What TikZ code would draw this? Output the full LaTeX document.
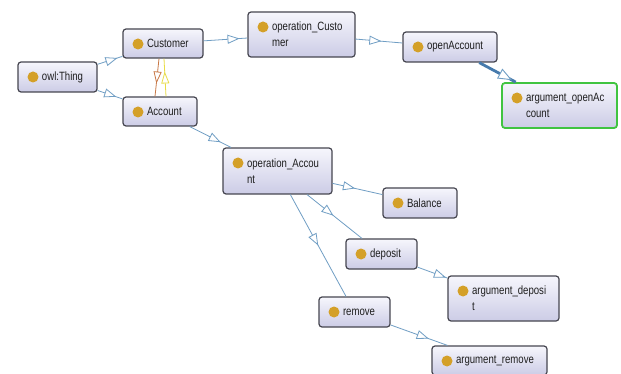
\documentclass[tikz,border=0pt]{standalone}
\usepackage{fontspec}
\setmainfont[FakeStretch=0.8]{Liberation Sans}
\usetikzlibrary{arrows.meta,decorations.markings}
\definecolor{edgec}{RGB}{112,158,196}
\definecolor{selc}{RGB}{70,122,172}
\definecolor{boxtop}{RGB}{246,246,252}
\definecolor{boxbot}{RGB}{204,204,230}
\definecolor{boxline}{RGB}{70,70,80}
\definecolor{dotc}{RGB}{212,160,40}
\definecolor{selgreen}{RGB}{64,196,64}
\definecolor{disjo}{RGB}{200,120,70}
\definecolor{disjy}{RGB}{232,220,70}
\definecolor{textc}{RGB}{30,30,30}
\newcommand\myind{\hspace*{20pt}}
\tikzset{
  box/.style={draw=boxline, line width=1.2pt, rounded corners=3pt,
    top color=boxtop, bottom color=boxbot, inner xsep=4pt, inner ysep=0pt,
    align=left, text=textc, font=\fontsize{12}{16}\selectfont,
    path picture={\fill[dotc] ([xshift=15pt,yshift=-15pt]path picture bounding box.north west) circle (5.5pt);}},
  sz/.style n args={3}{minimum width=#1, text width=#2, minimum height=#3},
  rel/.style={draw=edgec, line width=0.8pt, postaction=decorate,
    decoration={markings, mark=at position #1 with {\arrow[edgec]{Triangle[length=12pt,width=9pt,fill=white]}}}},
  selrel/.style={draw=selc, line width=2.8pt, postaction=decorate,
    decoration={markings, mark=at position #1 with {\arrow[edgec,line width=0.9pt]{Triangle[length=14pt,width=11pt,fill=white]}}}},
  disj/.style={draw=#1, line width=0.8pt},
  disjarrow/.style 2 args={postaction=decorate,
    decoration={markings, mark=at position #2 with {\arrow[#1,line width=0.8pt]{Triangle[length=12pt,width=8pt,fill=white]}}}},
}
\begin{document}
\begin{tikzpicture}[x=1pt,y=-1pt]
\useasboundingbox (0,0) rectangle (621,374);
\fill[white] (0,0) rectangle (621,374);

\node[box, sz={79pt}{71pt}{30pt}] (thing) at (57.5,77) {\myind owl:Thing};
\node[box, sz={80pt}{72pt}{29pt}] (cust) at (163,43.5) {\myind Customer};
\node[box, sz={74pt}{66pt}{29pt}] (acc) at (160,111.5) {\myind Account};
\node[box, sz={107pt}{99pt}{45pt}] (opc) at (301.5,34.5) {\myind operation\_Custo\\\myind mer};
\node[box, sz={94pt}{86pt}{30pt}] (open) at (450,47) {\myind openAccount};
\node[box, sz={115pt}{107pt}{45pt}, draw=selgreen, line width=1.8pt] (argopen) at (559.5,105.5) {\myind argument\_openAc\\\myind count};
\node[box, sz={109pt}{101pt}{46pt}] (opa) at (277.5,171) {\myind operation\_Accou\\\myind nt};
\node[box, sz={74pt}{66pt}{30pt}] (bal) at (420,203) {\myind Balance};
\node[box, sz={71pt}{63pt}{30pt}] (dep) at (381.5,254) {\myind deposit};
\node[box, sz={111pt}{103pt}{45pt}] (argdep) at (503.5,298.5) {\myind argument\_deposi\\\myind t};
\node[box, sz={71pt}{63pt}{30pt}] (rem) at (354.5,312) {\myind remove};
\node[box, sz={115pt}{107pt}{29pt}] (argrem) at (489.5,360.5) {\myind argument\_remove};

\draw[rel=0.8] (thing) -- (cust);
\draw[rel=0.75] (thing) -- (acc);
\draw[rel=0.82] (cust) -- (opc);
\draw[rel=0.55] (opc) -- (open);
\draw[selrel=0.9] (open) -- (argopen);
\draw[rel=0.75] (acc) -- (opa);
\draw[rel=0.45] (opa) -- (bal);
\draw[rel=0.48] (opa) -- (dep);
\draw[rel=0.5] (opa) -- (rem);
\draw[rel=0.95] (dep) -- (argdep);
\draw[rel=0.67] (rem) -- (argrem);

\draw[disj=disjo, disjarrow={disjo}{0.66}] ([xshift=-4pt]cust.south) -- ([xshift=-5pt]acc.north);
\draw[disj=disjy, disjarrow={disjy}{0.66}] ([xshift=6pt]acc.north) -- ([xshift=1pt]cust.south);
\end{tikzpicture}
\end{document}
